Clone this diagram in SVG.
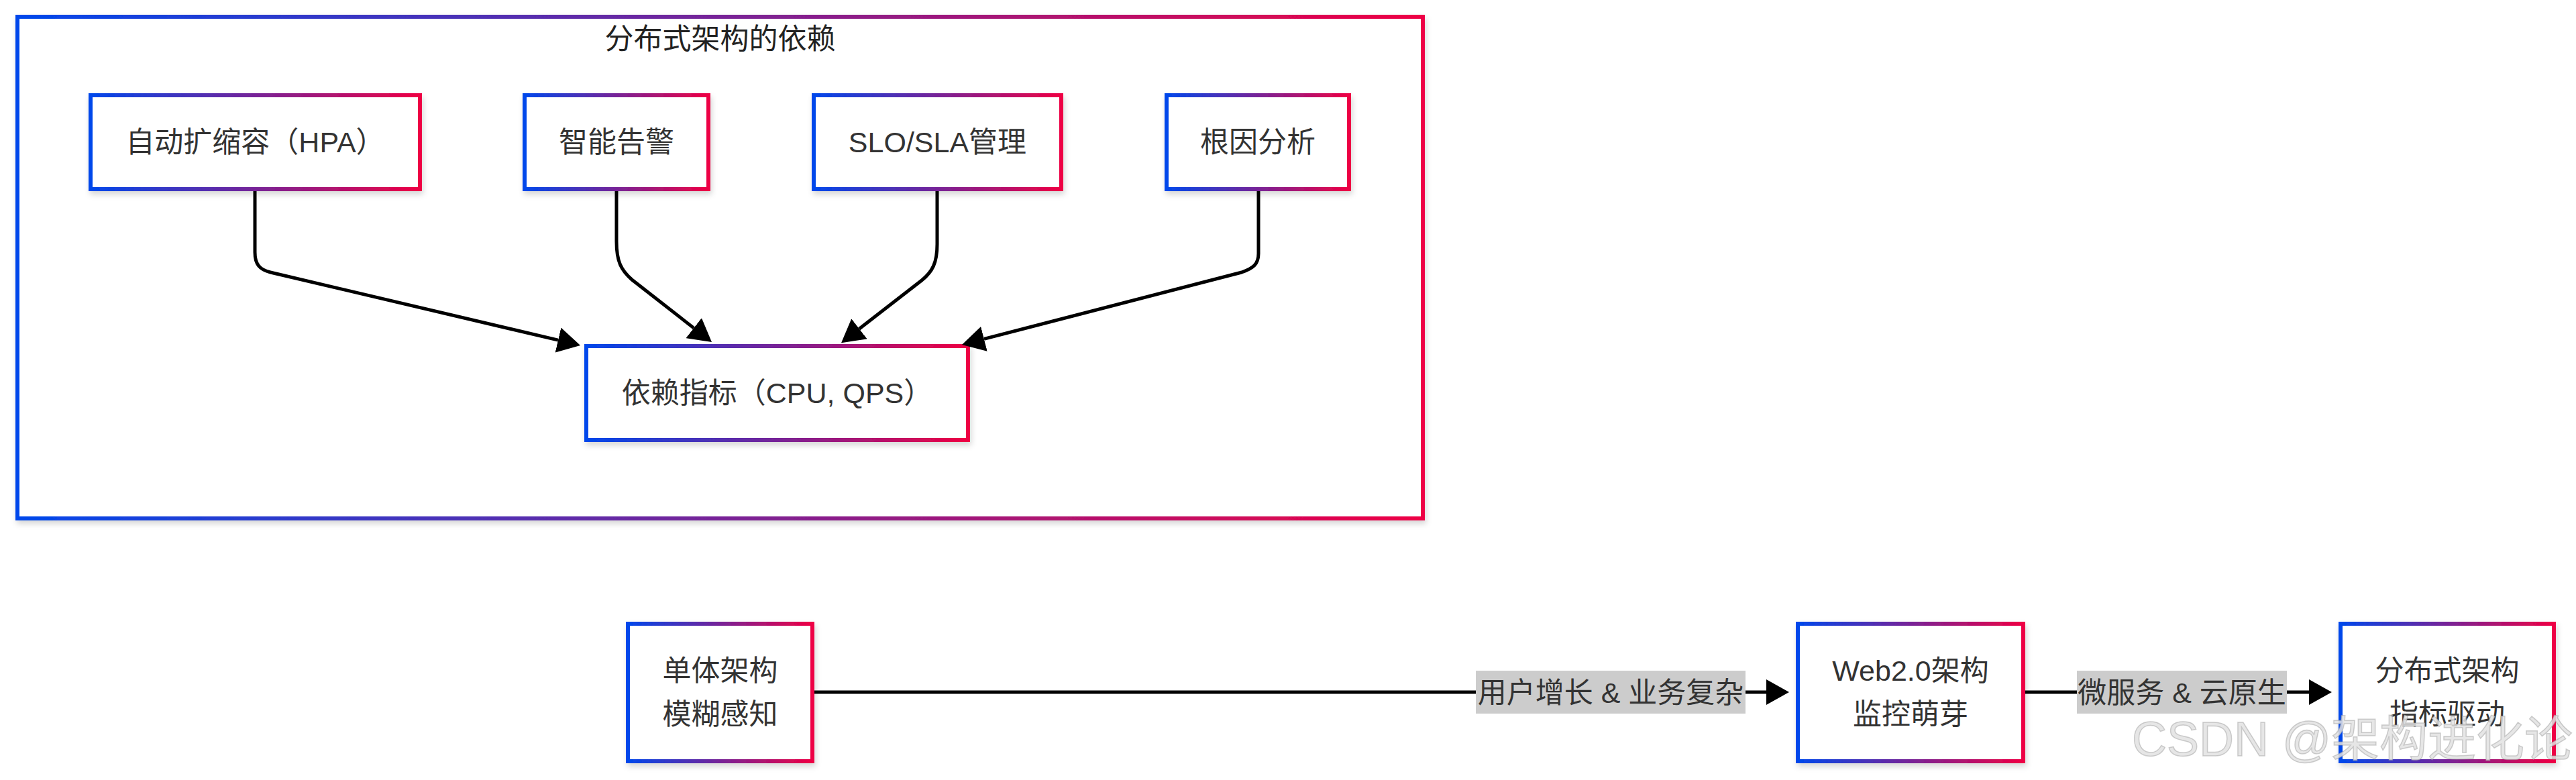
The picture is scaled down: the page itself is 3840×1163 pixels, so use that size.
<svg xmlns="http://www.w3.org/2000/svg" width="3840" height="1163" viewBox="0 0 3840 1163">
<defs>
  <linearGradient id="grad" x1="0" y1="0" x2="1" y2="0">
    <stop offset="0" stop-color="#0047EB"/>
    <stop offset="1" stop-color="#EE0044"/>
  </linearGradient>
  <filter id="shadow" x="-10%" y="-10%" width="120%" height="130%">
    <feDropShadow dx="2" dy="5" stdDeviation="4" flood-color="#000" flood-opacity="0.16"/>
  </filter>
  <marker id="arrow" viewBox="0 0 34 38" markerUnits="userSpaceOnUse" markerWidth="34" markerHeight="38" refX="0" refY="19" orient="auto">
    <path d="M0,0 L34,19 L0,38 z" fill="#000"/>
  </marker>
  <style>
    .box { fill: #fff; stroke: url(#grad); stroke-width: 6; filter: url(#shadow); }
    .t { font-family: "Liberation Sans", "Noto Sans CJK SC", sans-serif; font-size: 43px; fill: #333; text-anchor: middle; }
    .title { font-family: "Liberation Sans", "Noto Sans CJK SC", sans-serif; font-size: 43px; fill: #222; text-anchor: middle; }
    .edge { fill: none; stroke: #000; stroke-width: 5; marker-end: url(#arrow); }
    .lblbg { fill: #cccccc; }
    .wm { font-family: "Liberation Sans", "Noto Sans CJK SC", sans-serif; font-size: 72px; fill: #e2e2e2; fill-opacity: 0.85; stroke: #999; stroke-opacity: 0.45; stroke-width: 1.5; }
  </style>
</defs>
<rect width="3840" height="1163" fill="#fff"/>

<g id="cluster-distributed">
  <rect class="box" x="26" y="25" width="2095" height="748"/>
  <text class="title" x="1073.5" y="72.5">分布式架构的依赖</text>
</g>

<g id="node-hpa">
  <rect class="box" x="135" y="142" width="491" height="140"/>
  <text class="t" x="380.5" y="226.5">自动扩缩容（HPA）</text>
</g>
<g id="node-alert">
  <rect class="box" x="782" y="142" width="274" height="140"/>
  <text class="t" x="919" y="226.5">智能告警</text>
</g>
<g id="node-slo">
  <rect class="box" x="1213" y="142" width="369" height="140"/>
  <text class="t" x="1397.5" y="226.5">SLO/SLA管理</text>
</g>
<g id="node-rca">
  <rect class="box" x="1739" y="142" width="272" height="140"/>
  <text class="t" x="1875" y="226.5">根因分析</text>
</g>
<g id="node-metrics">
  <rect class="box" x="874" y="516" width="569" height="140"/>
  <text class="t" x="1158.5" y="601">依赖指标（CPU, QPS）</text>
</g>

<g id="node-mono">
  <rect class="box" x="936" y="930" width="275" height="205"/>
  <text class="t" x="1073.5" y="1014.5">单体架构</text>
  <text class="t" x="1073.5" y="1079.5">模糊感知</text>
</g>
<g id="node-web2">
  <rect class="box" x="2680" y="930" width="336" height="205"/>
  <text class="t" x="2848" y="1014.5">Web2.0架构</text>
  <text class="t" x="2848" y="1079.5">监控萌芽</text>
</g>
<g id="node-dist">
  <rect class="box" x="3489" y="930" width="318" height="205"/>
  <text class="t" x="3648" y="1014.5">分布式架构</text>
  <text class="t" x="3648" y="1079.5">指标驱动</text>
</g>

<g id="connectors">
  <path class="edge" d="M380,285 L380,376 C380,394 387,402 403,406 L832,507.1"/>
  <path class="edge" d="M919,285 L919,360 C919,390 926,403 942,417 L1034.2,489.1"/>
  <path class="edge" d="M1397,285 L1397,364 C1397,392 1390,405 1374,418 L1280.9,490.3"/>
  <path class="edge" d="M1876,285 L1876,378 C1876,394 1868,400 1851,406 L1466.9,505.4"/>
  <path class="edge" d="M1214,1032 L2633,1032"/>
  <path class="edge" d="M3019,1032 L3442,1032"/>
  <g id="label-growth">
    <rect class="lblbg" x="2200" y="1000" width="402" height="64"/>
    <text class="t" x="2401" y="1047.5">用户增长 &amp; 业务复杂</text>
  </g>
  <g id="label-cloud">
    <rect class="lblbg" x="3096" y="1000" width="313" height="64"/>
    <text class="t" x="3252.5" y="1047.5">微服务 &amp; 云原生</text>
  </g>
</g>

<text class="wm" x="3178" y="1127">CSDN @架构进化论</text>
</svg>
